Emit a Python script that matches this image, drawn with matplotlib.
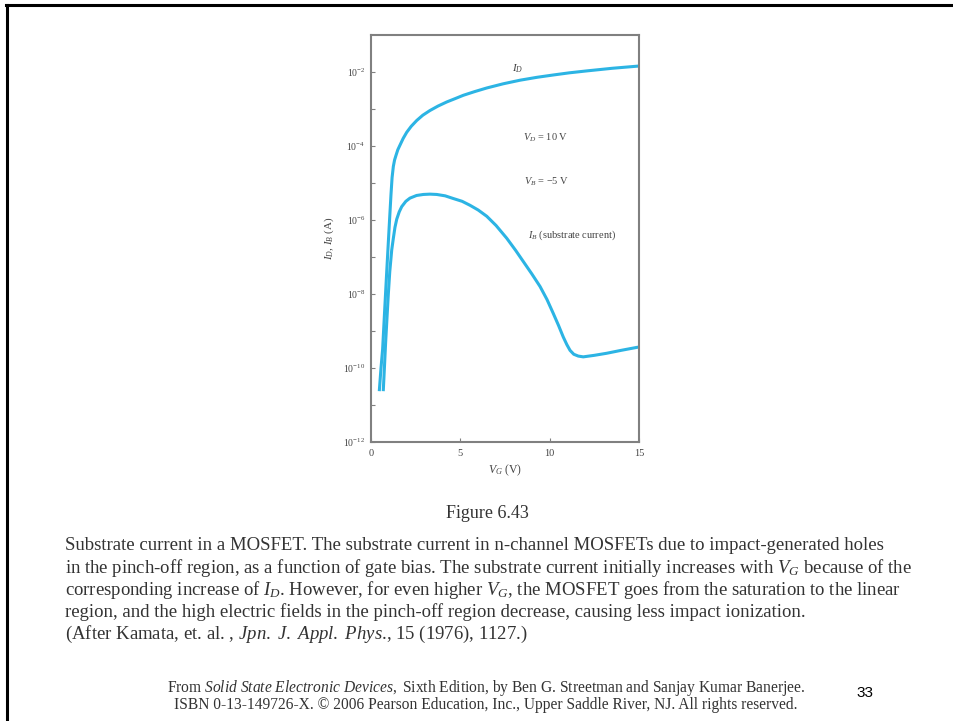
import matplotlib
matplotlib.use("Agg")
import matplotlib.pyplot as plt
from matplotlib.lines import Line2D
from matplotlib.ticker import FixedLocator, NullFormatter

plt.rcParams["font.family"] = ["Liberation Serif", "DejaVu Serif"]
plt.rcParams["mathtext.fontset"] = "custom"
plt.rcParams["mathtext.rm"] = "Liberation Serif"
plt.rcParams["mathtext.it"] = "Liberation Serif:italic"
plt.rcParams["mathtext.bf"] = "Liberation Serif:bold"

# ── Data ────────────────────────────────────────────────────────────────────
VG_ID = [0.47, 0.56, 0.65, 0.78, 0.88, 0.97, 1.05, 1.12, 1.18, 1.25, 1.32,
         1.40, 1.50, 1.62, 1.80, 2.0, 2.25, 2.56, 2.9, 3.3, 3.75, 4.24, 4.7,
         5.17, 5.8, 6.48, 7.4, 8.34, 9.3, 10.2, 11.1, 12.07, 13.5, 15.0]
ID = [2.6e-11, 1.0e-10, 3.2e-10, 5.0e-9, 4.0e-8, 2.5e-7, 1.26e-6, 5.0e-6,
      1.4e-5, 2.8e-5, 4.2e-5, 5.6e-5, 7.9e-5, 1.05e-4, 1.6e-4, 2.35e-4,
      3.4e-4, 4.9e-4, 6.8e-4, 9.1e-4, 1.2e-3, 1.55e-3, 1.9e-3, 2.35e-3,
      2.95e-3, 3.7e-3, 4.8e-3, 6.0e-3, 7.2e-3, 8.3e-3, 9.5e-3, 1.07e-2,
      1.26e-2, 1.45e-2]

VG_IB = [0.69, 0.75, 0.82, 0.90, 0.97, 1.05, 1.16, 1.25, 1.34, 1.44, 1.58,
         1.72, 1.95, 2.18, 2.55, 2.93, 3.3, 3.68, 4.15, 4.61, 5.1, 5.54, 6.0,
         6.48, 7.0, 7.6, 8.1, 8.52, 9.0, 9.46, 9.85, 10.2, 10.5, 10.76, 10.96,
         11.14, 11.35, 11.6, 11.88, 12.5, 13.19, 14.0, 14.87]
IB = [2.6e-11, 1.0e-10, 5.0e-10, 2.5e-9, 1.0e-8, 4.0e-8, 1.55e-7, 3.2e-7,
      6.3e-7, 1.05e-6, 1.66e-6, 2.3e-6, 3.2e-6, 3.9e-6, 4.6e-6, 4.9e-6,
      5.0e-6, 4.9e-6, 4.5e-6, 3.8e-6, 3.2e-6, 2.5e-6, 1.86e-6, 1.26e-6,
      7.1e-7, 3.2e-7, 1.5e-7, 7.6e-8, 3.5e-8, 1.6e-8, 7.1e-9, 3.0e-9, 1.4e-9,
      6.9e-10, 4.3e-10, 3.0e-10, 2.35e-10, 2.1e-10, 2.0e-10, 2.2e-10,
      2.5e-10, 3.0e-10, 3.6e-10]

X_TICKS = [0, 5, 10, 15]
Y_MAJOR = [1e-12, 1e-10, 1e-8, 1e-6, 1e-4, 1e-2]
Y_MINOR = [1e-11, 1e-9, 1e-7, 1e-5, 1e-3]

CAPTION = [
    "Substrate current in a MOSFET. The substrate current in n-channel MOSFETs due to impact-generated holes",
    "in the pinch-off region, as a function of gate bias. The substrate current initially increases with $V_G$ because of the",
    "corresponding increase of $I_D$. However, for even higher $V_G$, the MOSFET goes from the saturation to the linear",
    "region, and the high electric fields in the pinch-off region decrease, causing less impact ionization.",
    r"(After Kamata, et. al. , $\it{Jpn.\ J.\ Appl.\ Phys}$., 15 (1976), 1127.)",
]
FOOTER = [
    r"From $\it{Solid\ State\ Electronic\ Devices,}$ Sixth Edition, by Ben G. Streetman and Sanjay Kumar Banerjee.",
    "ISBN 0-13-149726-X. © 2006 Pearson Education, Inc., Upper Saddle River, NJ. All rights reserved.",
]

CURVE = "#2cb4e4"
GREY = "#808080"
TXT = "#444444"

W, H = 954, 721
fig = plt.figure(figsize=(W / 100, H / 100), dpi=100)

# slide frame: top and left edges only
fig.add_artist(Line2D([6 / W, 1], [1 - 5 / H, 1 - 5 / H], color="black", lw=2.2))
fig.add_artist(Line2D([7 / W, 7 / W], [0, 1 - 5 / H], color="black", lw=2.2))

ax = fig.add_axes([371 / W, 1 - 442 / H, 268 / W, 407 / H])
ax.plot(VG_ID, ID, color=CURVE, lw=2.2)
ax.plot(VG_IB, IB, color=CURVE, lw=2.2)
ax.set_yscale("log")
ax.set_xlim(0, 15)
ax.set_ylim(1e-12, 1e-1)

ax.xaxis.set_major_locator(FixedLocator(X_TICKS))
ax.yaxis.set_major_locator(FixedLocator(Y_MAJOR))
ax.yaxis.set_minor_locator(FixedLocator(Y_MINOR))
ax.yaxis.set_minor_formatter(NullFormatter())
ax.tick_params(which="both", direction="in", length=3, width=0.8, color=GREY,
               labelcolor=TXT, top=False, right=False)
ax.tick_params(axis="y", labelsize=7, pad=4)
ax.tick_params(axis="x", labelsize=7.5, pad=5)
for s in ax.spines.values():
    s.set_color(GREY)
    s.set_linewidth(1.5)

ax.set_xlabel("$V_G$ (V)", fontsize=8.5, color=TXT, labelpad=3)
ax.set_ylabel("$I_D$, $I_B$ (A)", fontsize=8, color=TXT, labelpad=5)

ax.text(8.2, 1.2e-2, "$I_D$", fontsize=8, color=TXT, ha="center", va="center")
ax.text(9.8, 1.7e-4, "$V_D$ = 10 V", fontsize=7.5, color=TXT, ha="center", va="center")
ax.text(9.8, 1.07e-5, "$V_B$ = −5 V", fontsize=7.5, color=TXT, ha="center", va="center")
ax.text(8.79, 3.9e-7, "$I_B$ (substrate current)", fontsize=7.5, color=TXT,
        ha="left", va="center")

fig.text(487 / W, 1 - 513 / H, "Figure 6.43", fontsize=13, color="#333333",
         ha="center", va="center")
for i, line in enumerate(CAPTION):
    fig.text(65 / W, 1 - (546 + 22 * i) / H, line, fontsize=13.5,
             color="#333333", ha="left", va="center")
for i, line in enumerate(FOOTER):
    fig.text(486 / W, 1 - (688 + 17 * i) / H, line, fontsize=11.2,
             color="#333333", ha="center", va="center")
fig.text(865 / W, 1 - 693 / H, "33", fontsize=11, family="Liberation Sans",
         color="black", ha="center", va="center")

fig.savefig("out.png", dpi=100)
